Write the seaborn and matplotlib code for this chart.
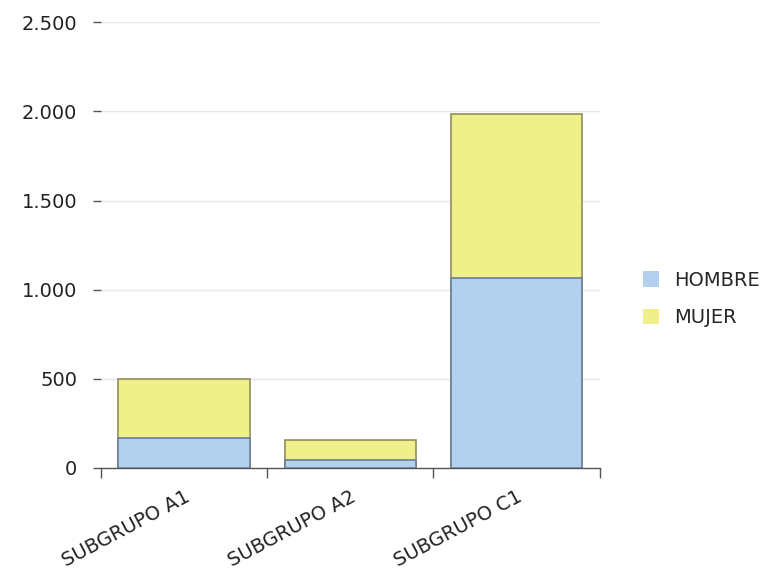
import matplotlib
matplotlib.use("Agg")
import matplotlib.pyplot as plt
import matplotlib.ticker as mticker
import pandas as pd
import seaborn as sns

categories = ["SUBGRUPO A1", "SUBGRUPO A2", "SUBGRUPO C1"]
hombre = [169, 45, 1068]
mujer = [330, 113, 916]
series_labels = ["HOMBRE", "MUJER"]
colors = {"HOMBRE": "#b3d0ee", "MUJER": "#f0f08a"}
edges = {"HOMBRE": "#6a7f96", "MUJER": "#8f8f5a"}

df = pd.DataFrame({"grupo": categories, "HOMBRE": hombre, "MUJER": mujer})
df["TOTAL"] = df["HOMBRE"] + df["MUJER"]

sns.set_theme(style="white")
plt.rcParams["font.family"] = ["DejaVu Sans"]

fig = plt.figure(figsize=(7.74, 5.70), dpi=100)
ax = fig.add_axes([0.130, 0.179, 0.645, 0.782])

# stacked: draw total first (mujer colour), then hombre over it
sns.barplot(data=df, x="grupo", y="TOTAL", color=colors["MUJER"], width=0.79,
            edgecolor=edges["MUJER"], linewidth=1.2, saturation=1, ax=ax,
            label="MUJER", zorder=2)
sns.barplot(data=df, x="grupo", y="HOMBRE", color=colors["HOMBRE"], width=0.79,
            edgecolor=edges["HOMBRE"], linewidth=1.2, saturation=1, ax=ax,
            label="HOMBRE", zorder=3)

ax.set_xlim(-0.5, 2.5)
ax.set_ylim(0, 2500)
ax.set_yticks([0, 500, 1000, 1500, 2000, 2500])
ax.yaxis.set_major_formatter(mticker.FuncFormatter(lambda v, p: f"{int(v):,}".replace(",", ".")))
ax.yaxis.grid(True, color="#e6e6e6", linewidth=1, zorder=0)
ax.set_axisbelow(True)

# ticks on the category boundaries, labels at centres
ax.set_xticks([-0.5, 0.5, 1.5, 2.5])
ax.set_xticklabels([])
ax.set_xticks([0, 1, 2], minor=True)
ax.set_xticklabels(categories, minor=True, rotation=28, ha="right",
                   rotation_mode="anchor", fontsize=14, color="#222222")
ax.tick_params(axis="x", which="minor", bottom=True, length=0, pad=14)
ax.tick_params(axis="x", which="major", bottom=True, length=7, width=1,
               color="#555555", direction="out")
ax.tick_params(axis="y", length=6, width=1, color="#555555", pad=11, labelsize=14,
               labelcolor="#222222", left=True)
ax.set_xlabel("")
ax.set_ylabel("")

for s in ["top", "right", "left"]:
    ax.spines[s].set_visible(False)
ax.spines["bottom"].set_color("#555555")
ax.spines["bottom"].set_linewidth(1)

handles, labels = ax.get_legend_handles_labels()
order = [labels.index(l) for l in series_labels]
leg = ax.legend([handles[i] for i in order], series_labels, loc="center left",
                bbox_to_anchor=(1.07, 0.379), frameon=False, fontsize=14,
                handlelength=0.87, handleheight=0.87, labelspacing=0.95, handletextpad=0.75,
                borderaxespad=0)
for h in leg.legend_handles:
    h.set_edgecolor("none")

fig.savefig("out.png", dpi=100)
